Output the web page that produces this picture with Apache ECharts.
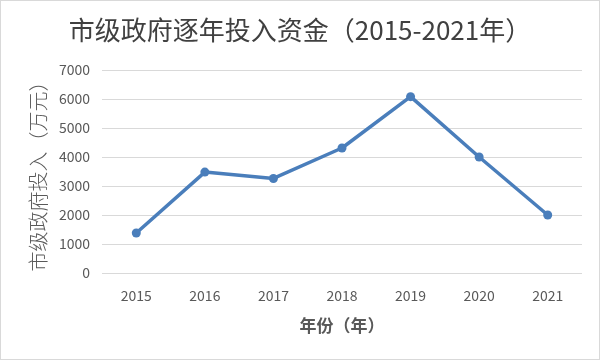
<!DOCTYPE html>
<html><head><meta charset="utf-8">
<script src="https://cdn.jsdelivr.net/npm/echarts@6/dist/echarts.min.js"></script>
<style>html,body{margin:0;padding:0;background:#fff}#c{width:598px;height:358px;border:1px solid #d9d9d9}</style>
</head><body><div id="c"></div>
<script>
const categories = ['2015','2016','2017','2018','2019','2020','2021'];
const values = [1380, 3480, 3260, 4310, 6080, 4000, 2000];
const yTicks = {min:0, max:7000, interval:1000};
const chart = echarts.init(document.getElementById('c'));
chart.setOption({
  animation:false,
  title:{text:'市级政府逐年投入资金（2015-2021年）',left:'center',top:11,
    textStyle:{fontFamily:'Noto Sans CJK SC',fontSize:26,fontWeight:'normal',color:'#404040'}},
  grid:{left:101,right:17,top:69,bottom:86},
  xAxis:{type:'category',data:categories,boundaryGap:true,
    name:'年份（年）',nameLocation:'middle',nameGap:44,
    nameTextStyle:{fontFamily:'Noto Sans CJK SC',fontSize:17,fontWeight:'bold',color:'#595959'},
    axisLine:{show:false},axisTick:{show:false},
    axisLabel:{fontFamily:'Noto Sans CJK SC',fontSize:14,color:'#595959',margin:16}},
  yAxis:{type:'value',min:yTicks.min,max:yTicks.max,interval:yTicks.interval,
    name:'市级政府投入（万元）',nameLocation:'middle',nameGap:50,nameRotate:90,
    nameTextStyle:{fontFamily:'Noto Sans CJK SC',fontSize:20,fontWeight:300,color:'#595959'},
    axisLine:{show:false},axisTick:{show:false},
    splitLine:{lineStyle:{color:'#d9d9d9',width:1}},
    axisLabel:{fontFamily:'Noto Sans CJK SC',fontSize:14,color:'#595959',margin:12,
      formatter:v=>String(v)}},
  series:[{type:'line',data:values,symbol:'circle',symbolSize:9,
    lineStyle:{color:'#4a7ebb',width:3.5},itemStyle:{color:'#4a7ebb'}}]
});
</script></body></html>
